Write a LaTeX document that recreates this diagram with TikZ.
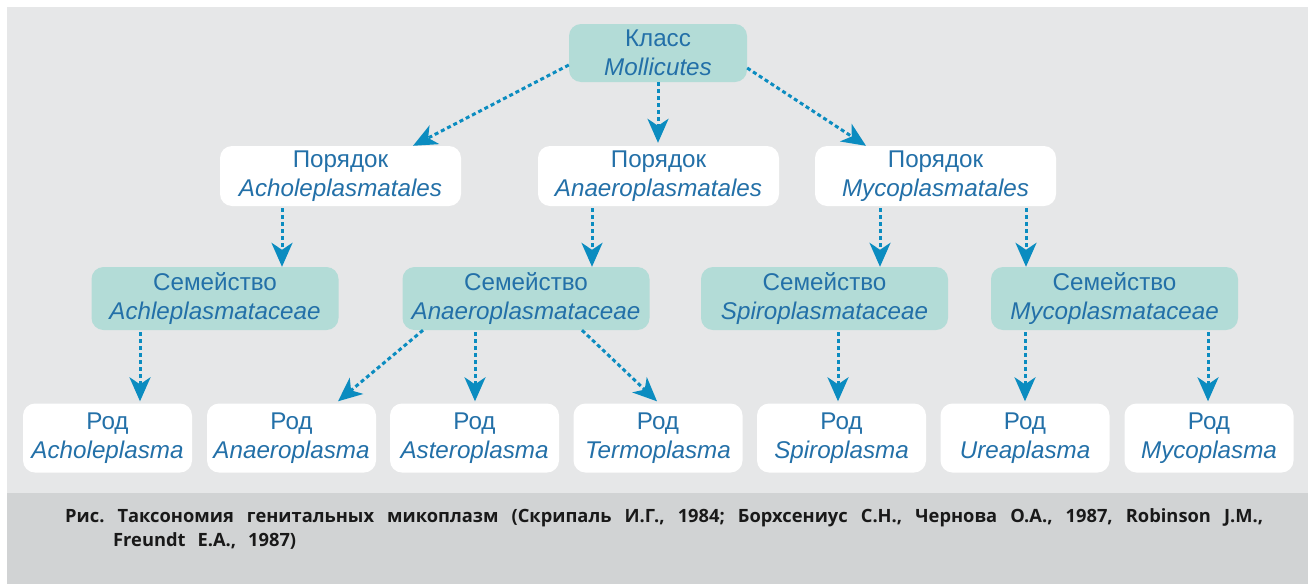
\documentclass[tikz,border=0pt]{standalone}
\usepackage{fontspec}
\setmainfont{Liberation Sans}
\newfontfamily\capfont{Open Sans}
\usetikzlibrary{arrows.meta}
\definecolor{bgc}{HTML}{E6E7E8}
\definecolor{capc}{HTML}{D1D3D4}
\definecolor{tealc}{HTML}{B3DCD7}
\definecolor{txtc}{HTML}{2370A8}
\definecolor{arrc}{HTML}{0B8CC0}
\newcommand\mycapsetup{\capfont\bfseries\fontsize{18.3}{24}\selectfont\frenchspacing\spaceskip=12pt plus 20pt minus 4pt\relax}
\tikzset{
  box/.style={rounded corners=12pt, align=center, text=txtc, inner sep=0pt,
    font=\fontsize{24.2}{29.5}\selectfont},
  clsbox/.style={box, fill=tealc, minimum width=178pt, minimum height=58pt},
  ordbox/.style={box, fill=white, minimum width=241pt, minimum height=60pt},
  fambox/.style={box, fill=tealc, minimum width=247pt, minimum height=63pt},
  genbox/.style={box, fill=white, minimum width=169pt, minimum height=69pt},
  arr/.style={draw=arrc, line width=3pt, dash pattern=on 4pt off 3pt,
    -{Stealth[length=24pt,width=21pt,inset=7pt]}},
  captext/.style={anchor=base west, inner sep=0pt, text=black!90, font=\mycapsetup}
}
\begin{document}
\begin{tikzpicture}[x=1pt,y=-1pt]
\useasboundingbox (0,0) rectangle (1308,584);
\fill[bgc] (7,7) rectangle (1308,493);
\fill[capc] (7,493) rectangle (1308,584);

\node[clsbox] (klass) at (658,53) {Класс\\\itshape Mollicutes};

\node[ordbox] (ordA) at (340.5,176) {Порядок\\\itshape Acholeplasmatales};
\node[ordbox] (ordB) at (658.5,176) {Порядок\\\itshape Anaeroplasmatales};
\node[ordbox] (ordC) at (935.5,176) {Порядок\\\itshape Mycoplasmatales};

\node[fambox] (famA) at (215,298.5) {Семейство\\\itshape Achleplasmataceae};
\node[fambox] (famB) at (526,298.5) {Семейство\\\itshape Anaeroplasmataceae};
\node[fambox] (famC) at (824.5,298.5) {Семейство\\\itshape Spiroplasmataceae};
\node[fambox] (famD) at (1114.5,298.5) {Семейство\\\itshape Mycoplasmataceae};

\node[genbox] (genA) at (107.5,438) {Род\\\itshape Acholeplasma};
\node[genbox] (genB) at (291.5,438) {Род\\\itshape Anaeroplasma};
\node[genbox] (genC) at (474.5,438) {Род\\\itshape Asteroplasma};
\node[genbox] (genD) at (658,438) {Род\\\itshape Termoplasma};
\node[genbox] (genE) at (841.5,438) {Род\\\itshape Spiroplasma};
\node[genbox] (genF) at (1025,438) {Род\\\itshape Ureaplasma};
\node[genbox] (genG) at (1209,438) {Род\\\itshape Mycoplasma};

\draw[arr] (klass.west |- 0,65) -- (413,0 |- ordA.north);
\draw[arr] (klass.south) -- ([yshift=3pt]klass.south |- ordB.north);
\draw[arr] (klass.east |- 0,68) -- (866,0 |- ordC.north);

\draw[arr] ([yshift=-2pt]282,0 |- ordA.south) -- (282,0 |- famA.north);
\draw[arr] ([yshift=-2pt]592,0 |- ordB.south) -- (592,0 |- famB.north);
\draw[arr] ([yshift=-2pt]880,0 |- ordC.south) -- (880,0 |- famC.north);
\draw[arr] ([yshift=-2pt]1026,0 |- ordC.south) -- (1026,0 |- famD.north);

\draw[arr] ([yshift=-2pt]140,0 |- famA.south) -- ([yshift=2pt]140,0 |- genA.north);
\draw[arr] (423,0 |- famB.south) -- ([yshift=2pt]338,0 |- genB.north);
\draw[arr] ([yshift=-2pt]475,0 |- famB.south) -- ([yshift=2pt]475,0 |- genC.north);
\draw[arr] (582,0 |- famB.south) -- ([yshift=2pt]657,0 |- genD.north);
\draw[arr] ([yshift=-2pt]838,0 |- famC.south) -- ([yshift=2pt]838,0 |- genE.north);
\draw[arr] ([yshift=-2pt]1025,0 |- famD.south) -- ([yshift=2pt]1025,0 |- genF.north);
\draw[arr] ([yshift=-2pt]1208,0 |- famD.south) -- ([yshift=2pt]1208,0 |- genG.north);

\node[captext] (cap1) at (65,522)
  {\makebox[1198pt][s]{Рис. Таксономия генитальных микоплазм (Скрипаль И.Г., 1984; Борхсениус С.Н., Чернова О.А., 1987, Robinson J.M.,}};
\node[captext] (cap2) at (113,546) {Freundt E.A., 1987)};
\end{tikzpicture}
\end{document}
